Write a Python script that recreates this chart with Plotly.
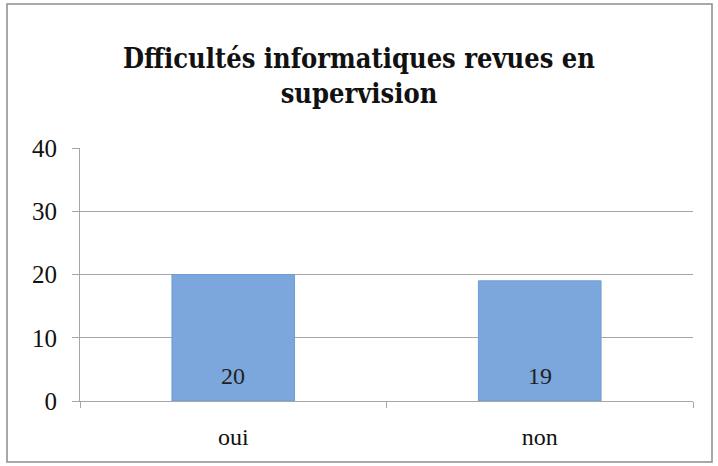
import plotly.graph_objects as go

categories = ["oui", "non"]
values = [20, 19]
y_ticks = [0, 10, 20, 30, 40]
title_text = "Dfficultés informatiques revues en<br>supervision"

W, H = 718, 466
ml, mr, mt, mb = 80, 25, 148, 65
pw = W - ml - mr
ph = H - mt - mb

serif = "Liberation Serif, DejaVu Serif, serif"

fig = go.Figure()
fig.add_trace(go.Bar(
    x=categories, y=values,
    marker=dict(color="#7BA7DC", line=dict(color="#6F9DD6", width=1)),
    width=0.4,
))

# value labels anchored at each bar's base, inside the bar
annotations = [
    dict(x=c, y=0, xref="x", yref="y", text=str(v), showarrow=False,
         yanchor="bottom", yshift=10,
         font=dict(family=serif, size=24, color="#222222"))
    for c, v in zip(categories, values)
]

grid = "#A6A6A6"
fig.update_layout(
    width=W, height=H,
    margin=dict(l=ml, r=mr, t=mt, b=mb),
    paper_bgcolor="white", plot_bgcolor="white",
    showlegend=False,
    annotations=annotations,
    title=dict(text="<b>" + title_text + "</b>", x=0.5, xref="container", xanchor="center",
               y=1 - 68 / H, yref="container", yanchor="top",
               font=dict(family="DejaVu Serif Condensed, Liberation Serif, serif",
                         size=27, color="#111111")),
    xaxis=dict(showgrid=False, showline=True, linecolor=grid, linewidth=1,
               ticks="outside", tickson="boundaries", ticklen=6, tickcolor=grid,
               ticklabelstandoff=14,
               tickfont=dict(family=serif, size=24, color="#111111")),
    yaxis=dict(range=[0, 40], tickvals=y_ticks, showgrid=True, gridcolor=grid, gridwidth=1,
               showline=True, linecolor=grid, linewidth=1, zeroline=False,
               ticks="outside", ticklen=7, tickcolor=grid, ticklabelstandoff=10,
               tickfont=dict(family=serif, size=25, color="#111111")),
    shapes=[dict(type="rect", xref="paper", yref="paper",
                 x0=(7 - ml) / pw, x1=(712 - ml) / pw,
                 y0=(mt + ph - 462) / ph, y1=(mt + ph - 4) / ph,
                 line=dict(color="#8C8C8C", width=1.5), fillcolor="rgba(0,0,0,0)", layer="below")],
)

fig.write_html("out.html", config={"displayModeBar": False},
               post_script="document.body.style.margin='0';")
